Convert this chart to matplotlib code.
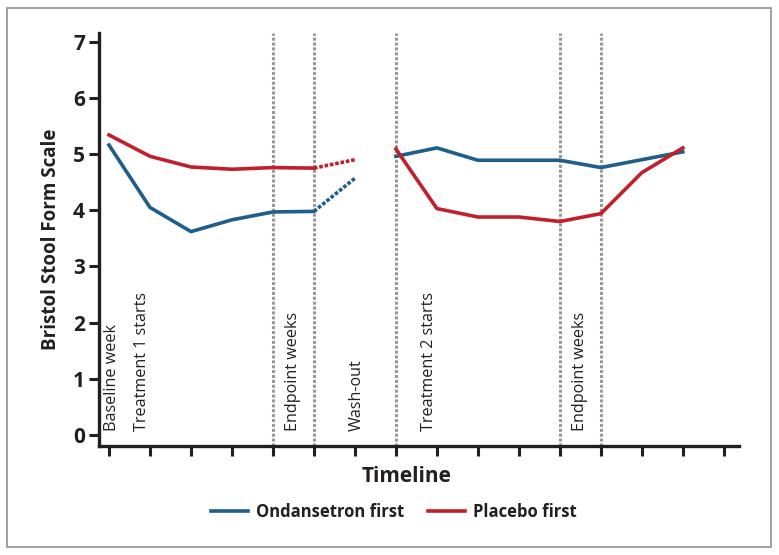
import matplotlib
matplotlib.use("Agg")
import matplotlib.pyplot as plt
from matplotlib.patches import Rectangle

plt.rcParams['font.family'] = ['Open Sans', 'DejaVu Sans']

# Data
week_idx_p1 = [0, 1, 2, 3, 4, 5]
ond_p1 = [5.16, 4.05, 3.62, 3.83, 3.97, 3.98]
pla_p1 = [5.34, 4.96, 4.77, 4.73, 4.76, 4.75]
washout_idx = [5, 6]
ond_wash = [3.98, 4.57]
pla_wash = [4.75, 4.90]
week_idx_p2 = [7, 8, 9, 10, 11, 12, 13, 14]
ond_p2 = [4.96, 5.11, 4.89, 4.89, 4.89, 4.76, 4.90, 5.04]
pla_p2 = [5.09, 4.03, 3.88, 3.88, 3.80, 3.94, 4.67, 5.11]
vlines_idx = [4, 5, 7, 11, 12]
phase_labels = ["Baseline week", "Treatment 1 starts", "Endpoint weeks", "Wash-out",
                "Treatment 2 starts", "Endpoint weeks"]
phase_label_x = [0.07, 0.8, 4.5, 6.05, 7.8, 11.5]
yticks = [0, 1, 2, 3, 4, 5, 6, 7]
xticks = list(range(16))

BLUE = "#1d5f8a"
RED = "#c1202b"
DARK = "#231f20"
GRAY = "#999999"

fig = plt.figure(figsize=(7.79, 5.55), dpi=100)
W, H = 779, 555
fig.patches.append(Rectangle((7 / W, 1 - 547 / H), (771 - 7) / W, (547 - 8) / H,
                             transform=fig.transFigure, fill=False, edgecolor=GRAY, lw=1.3))

ax = fig.add_axes([99 / W, 1 - 445.7 / H, (739 - 99) / W, (445.7 - 32.7) / H])
ax.set_xlim(-0.244, 15.37)
ax.set_ylim(-0.19, 7.16)

for xv in vlines_idx:
    ax.axvline(xv, color=GRAY, lw=2.2, ls=(0, (1, 0.6)), zorder=1)

lw = 2.6
ax.plot(week_idx_p1, ond_p1, color=BLUE, lw=lw, zorder=3, label="Ondansetron first")
ax.plot(week_idx_p1, pla_p1, color=RED, lw=lw, zorder=3, label="Placebo first")
ax.plot(washout_idx, ond_wash, color=BLUE, lw=lw, ls=(0, (1, 0.5)), zorder=3)
ax.plot(washout_idx, pla_wash, color=RED, lw=lw, ls=(0, (1, 0.5)), zorder=3)
ax.plot(week_idx_p2, ond_p2, color=BLUE, lw=lw, zorder=3)
ax.plot(week_idx_p2, pla_p2, color=RED, lw=lw, zorder=3)

for lab, xv in zip(phase_labels, phase_label_x):
    ax.text(xv, 0.08, lab, rotation=90, ha='center', va='bottom', fontsize=11.6,
            color=DARK)

for s in ['top', 'right']:
    ax.spines[s].set_visible(False)
for s in ['left', 'bottom']:
    ax.spines[s].set_linewidth(2.4)
    ax.spines[s].set_color(DARK)

ax.set_yticks(yticks)
ax.set_yticklabels([str(v) for v in yticks], fontsize=15, fontweight='bold', color=DARK)
ax.set_xticks(xticks)
ax.set_xticklabels([])
ax.tick_params(axis='y', length=7, width=2.2, color=DARK, pad=3)
ax.tick_params(axis='x', length=7, width=2.2, color=DARK)

ax.set_ylabel("Bristol Stool Form Scale", fontsize=13.5, fontweight='bold', color=DARK,
              labelpad=9)
fig.text(407 / W, 1 - 477 / H, "Timeline", ha='center', va='center', fontsize=15,
         fontweight='bold', color=DARK)

leg = fig.legend(loc='center', bbox_to_anchor=(394 / W, 1 - 512 / H), ncol=2, frameon=False,
                 fontsize=12, handlelength=2.2, columnspacing=1.4, handletextpad=0.5)
for t in leg.get_texts():
    t.set_fontweight('bold')
    t.set_color(DARK)

fig.savefig("out.png", dpi=100)
